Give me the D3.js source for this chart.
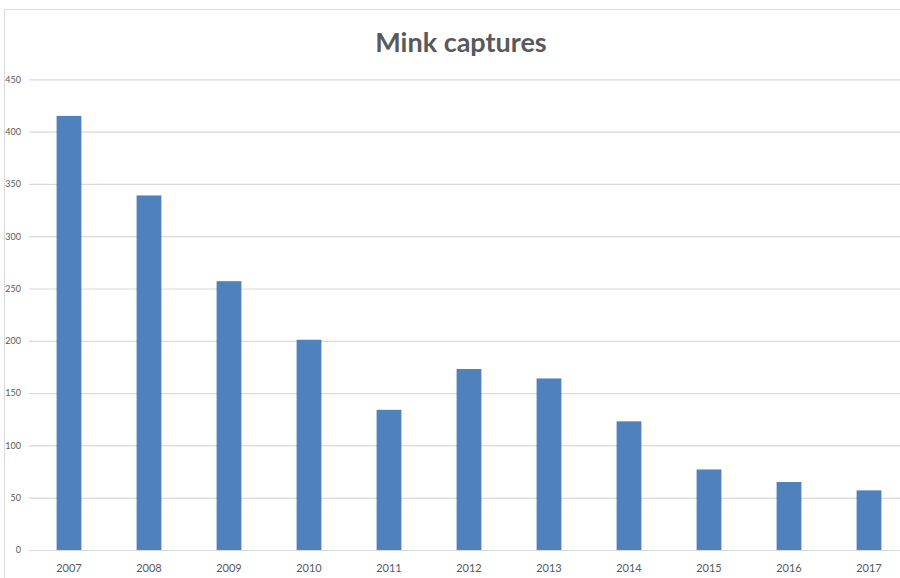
<!doctype html>
<html>
<head>
<meta charset="utf-8">
<title>Mink captures</title>
<style>
  body { margin: 0; background: #fff; }
  svg { display: block; }
</style>
</head>
<body>
<div id="here"></div>
<script src="https://d3js.org/d3.v7.min.js"></script>
<script>
  // data
  var years = ['2007','2008','2009','2010','2011','2012','2013','2014','2015','2016','2017'];
  var captures = [415, 339, 257, 201, 134, 173, 164, 123, 77, 65, 57];
  var yTicks = [0, 50, 100, 150, 200, 250, 300, 350, 400, 450];

  var w = 900, h = 578;
  // plot area (window.top is reserved, so use a margin object)
  var m = {left: 29, right: 909, top: 79.3, bottom: 550};

  var svg = d3.select('#here').append('svg')
    .attr('width', w)
    .attr('height', h);

  // chart frame (runs off the right and bottom edge)
  svg.append('rect')
    .attr('x', 4.5).attr('y', 9.5)
    .attr('width', 1000).attr('height', 1000)
    .attr('fill', 'none')
    .attr('stroke', '#d9d9d9');

  var x = d3.scaleBand().domain(years).range([m.left, m.right])
    .paddingInner(0.69).paddingOuter(0.345);
  var y = d3.scaleLinear().domain([0, 450]).range([m.bottom, m.top]);

  // grid lines + y labels
  var gy = svg.append('g')
    .attr('transform', 'translate(' + m.left + ',0)')
    .call(d3.axisLeft(y).tickValues(yTicks).tickSize(-(m.right - m.left)).tickPadding(8));
  gy.select('.domain').remove();
  gy.selectAll('.tick line').attr('stroke', '#d9d9d9').attr('stroke-width', 1.2);
  gy.selectAll('.tick text')
    .attr('fill', '#595959')
    .style('font-family', 'Lato, sans-serif')
    .style('font-size', '9px');

  // bars
  svg.selectAll('.bar')
    .data(captures)
    .enter().append('rect')
    .attr('class', 'bar')
    .attr('x', function(d, i) { return x(years[i]); })
    .attr('y', function(d) { return y(d); })
    .attr('width', x.bandwidth())
    .attr('height', function(d) { return y(0) - y(d); })
    .attr('fill', '#4f81bd');

  // x axis labels
  var gx = svg.append('g')
    .attr('transform', 'translate(0,' + m.bottom + ')')
    .call(d3.axisBottom(x).tickSize(0).tickPadding(14));
  gx.select('.domain').attr('stroke', '#d9d9d9').attr('stroke-width', 1.2);
  gx.selectAll('.tick text')
    .attr('fill', '#595959')
    .style('font-family', 'Lato, sans-serif')
    .style('font-size', '11px');

  // title
  svg.append('text')
    .attr('x', 461)
    .attr('y', 52)
    .attr('text-anchor', 'middle')
    .attr('fill', '#595959')
    .style('font-family', 'Lato, sans-serif')
    .style('font-weight', 'bold')
    .style('font-size', '27px')
    .text('Mink captures');
</script>
</body>
</html>
